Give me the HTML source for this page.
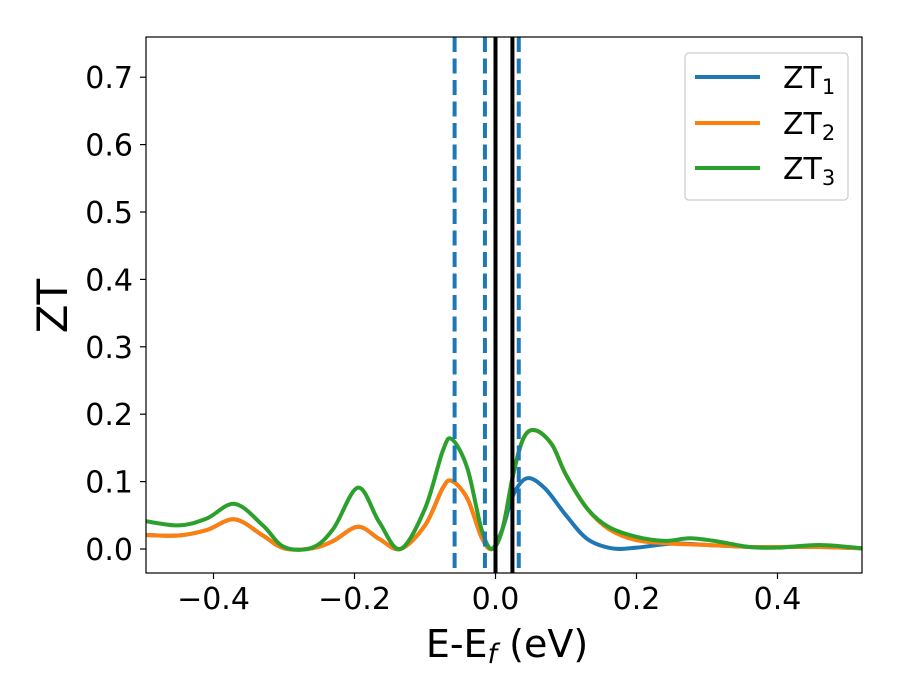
<!DOCTYPE html>
<html><head><meta charset="utf-8"><style>
body{margin:0;background:#fff}
svg{display:block;font-family:"DejaVu Sans","Liberation Sans",sans-serif}
</style></head><body>
<svg id="chart" width="900" height="700" viewBox="0 0 900 700">
<rect x="0" y="0" width="900" height="700" fill="#fff"/>
<g id="plot"></g>
</svg>
<script>
const xTicks=[-0.4,-0.2,0.0,0.2,0.4];
const xTickLabels=["\u22120.4","\u22120.2","0.0","0.2","0.4"];
const yTicks=[0,0.1,0.2,0.3,0.4,0.5,0.6,0.7];
const yTickLabels=["0.0","0.1","0.2","0.3","0.4","0.5","0.6","0.7"];
const zt1X=[-0.5,-0.45,-0.41,-0.37,-0.33,-0.30,-0.26,-0.23,-0.195,-0.165,-0.135,-0.10,-0.075,-0.062,-0.04,-0.02,-0.005,0.01,0.025,0.045,0.07,0.10,0.13,0.165,0.2,0.25,0.3,0.36,0.4,0.46,0.52];
const zt1Y=[0.021,0.020,0.028,0.044,0.020,0.001,0.001,0.012,0.033,0.015,0.0,0.035,0.090,0.101,0.075,0.018,0.0,0.030,0.080,0.105,0.090,0.050,0.015,0.001,0.002,0.008,0.006,0.003,0.003,0.003,0.001];
const zt2X=[-0.5,-0.45,-0.41,-0.37,-0.33,-0.30,-0.26,-0.23,-0.195,-0.165,-0.135,-0.10,-0.075,-0.062,-0.04,-0.02,-0.005,0.01,0.025,0.04,0.057,0.08,0.10,0.13,0.16,0.2,0.25,0.3,0.36,0.4,0.46,0.52];
const zt2Y=[0.021,0.020,0.028,0.044,0.020,0.001,0.001,0.012,0.033,0.015,0.0,0.035,0.090,0.101,0.075,0.018,0.0,0.030,0.110,0.165,0.176,0.155,0.110,0.060,0.030,0.013,0.008,0.006,0.003,0.003,0.003,0.001];
const zt3X=[-0.5,-0.45,-0.41,-0.37,-0.33,-0.30,-0.26,-0.23,-0.195,-0.165,-0.135,-0.10,-0.075,-0.062,-0.04,-0.02,-0.005,0.01,0.025,0.04,0.057,0.08,0.10,0.13,0.16,0.2,0.24,0.275,0.31,0.36,0.4,0.46,0.52];
const zt3Y=[0.042,0.035,0.045,0.067,0.035,0.003,0.002,0.030,0.091,0.040,0.0,0.060,0.145,0.163,0.120,0.030,0.0,0.030,0.110,0.165,0.176,0.155,0.110,0.060,0.033,0.018,0.012,0.016,0.012,0.003,0.002,0.006,0.001];
const dashedLines=[-0.058,-0.015,0.033];
const solidLines=[0.0,0.024];

const L=146,R=862,T=37,B=573;
function X(v){return 495.5+705*v;}
function Y(v){return 549-674*v;}
const NS="http://www.w3.org/2000/svg";
const g=document.getElementById('plot');
function mk(tag,attrs,parent){const e=document.createElementNS(NS,tag);for(const k in attrs)e.setAttribute(k,attrs[k]);(parent||g).appendChild(e);return e;}
function path(xs,ys){
  const p=xs.map((x,i)=>[X(x),Y(ys[i])]);
  let d="M"+p[0][0]+","+p[0][1];
  for(let i=0;i<p.length-1;i++){
    const p0=p[Math.max(0,i-1)],p1=p[i],p2=p[i+1],p3=p[Math.min(p.length-1,i+2)];
    const c1=[p1[0]+(p2[0]-p0[0])/6,p1[1]+(p2[1]-p0[1])/6];
    const c2=[p2[0]-(p3[0]-p1[0])/6,p2[1]-(p3[1]-p1[1])/6];
    d+=" C"+c1[0]+","+c1[1]+" "+c2[0]+","+c2[1]+" "+p2[0]+","+p2[1];
  }
  return d;
}
mk('clipPath',{id:'clip'}).appendChild(Object.assign(document.createElementNS(NS,'rect'),{}));
const cr=document.querySelector('#clip rect');cr.setAttribute('x',L);cr.setAttribute('y',T);cr.setAttribute('width',R-L);cr.setAttribute('height',B-T);
const series=[[zt1X,zt1Y,'#1f77b4','zt1-line'],[zt2X,zt2Y,'#ff7f0e','zt2-line'],[zt3X,zt3Y,'#2ca02c','zt3-line']];
series.forEach(s=>{
  const e=mk('path',{d:path(s[0],s[1]),fill:'none',stroke:s[2],'stroke-width':4,'clip-path':'url(#clip)','stroke-linejoin':'round'});
  
  
});
dashedLines.forEach((v,i)=>{
  const e=mk('line',{x1:X(v),x2:X(v),y1:T,y2:B,stroke:'#1f77b4','stroke-width':4,'stroke-dasharray':'15,6.5'});
  
  
});
solidLines.forEach((v,i)=>{
  const e=mk('line',{x1:X(v),x2:X(v),y1:T,y2:B,stroke:'#000','stroke-width':4});
  
  
});
const frame=mk('rect',{x:L,y:T,width:R-L,height:B-T,fill:'none',stroke:'#000','stroke-width':1.2});


xTicks.forEach((v,i)=>{
  mk('line',{x1:X(v),x2:X(v),y1:B,y2:B+6,stroke:'#000','stroke-width':1.2});
  const t=mk('text',{x:X(v),y:609,'text-anchor':'middle','font-size':30});
  t.textContent=xTickLabels[i];
  
  
});
yTicks.forEach((v,i)=>{
  mk('line',{x1:L-6,x2:L,y1:Y(v),y2:Y(v),stroke:'#000','stroke-width':1.2});
  const t=mk('text',{x:133,y:Y(v)+11,'text-anchor':'end','font-size':30});
  t.textContent=yTickLabels[i];
  
  
});
</script>
<svg style="position:absolute;left:0;top:0" width="900" height="700">
<text x="507" y="657" text-anchor="middle" font-size="38" font-family="DejaVu Sans, sans-serif">E-E<tspan font-style="italic" font-size="27" dy="6">f</tspan><tspan dy="-6"> (eV)</tspan></text>
<text transform="translate(67,306) rotate(-90)" text-anchor="middle" font-size="42" font-family="DejaVu Sans, sans-serif">ZT</text>
<g>
<rect x="685" y="53" width="163" height="147" rx="4" fill="#fff" fill-opacity="0.8" stroke="#ccc" stroke-width="1.2"/>
<line x1="695" x2="760" y1="77" y2="77" stroke="#1f77b4" stroke-width="4"/>
<line x1="695" x2="760" y1="123" y2="123" stroke="#ff7f0e" stroke-width="4"/>
<line x1="695" x2="760" y1="168" y2="168" stroke="#2ca02c" stroke-width="4"/>
<text x="783" y="88" font-size="30" font-family="DejaVu Sans, sans-serif">ZT<tspan font-size="21" dy="6">1</tspan></text>
<text x="783" y="134" font-size="30" font-family="DejaVu Sans, sans-serif">ZT<tspan font-size="21" dy="6">2</tspan></text>
<text x="783" y="179" font-size="30" font-family="DejaVu Sans, sans-serif">ZT<tspan font-size="21" dy="6">3</tspan></text>
</g>
</svg>
</body></html>
